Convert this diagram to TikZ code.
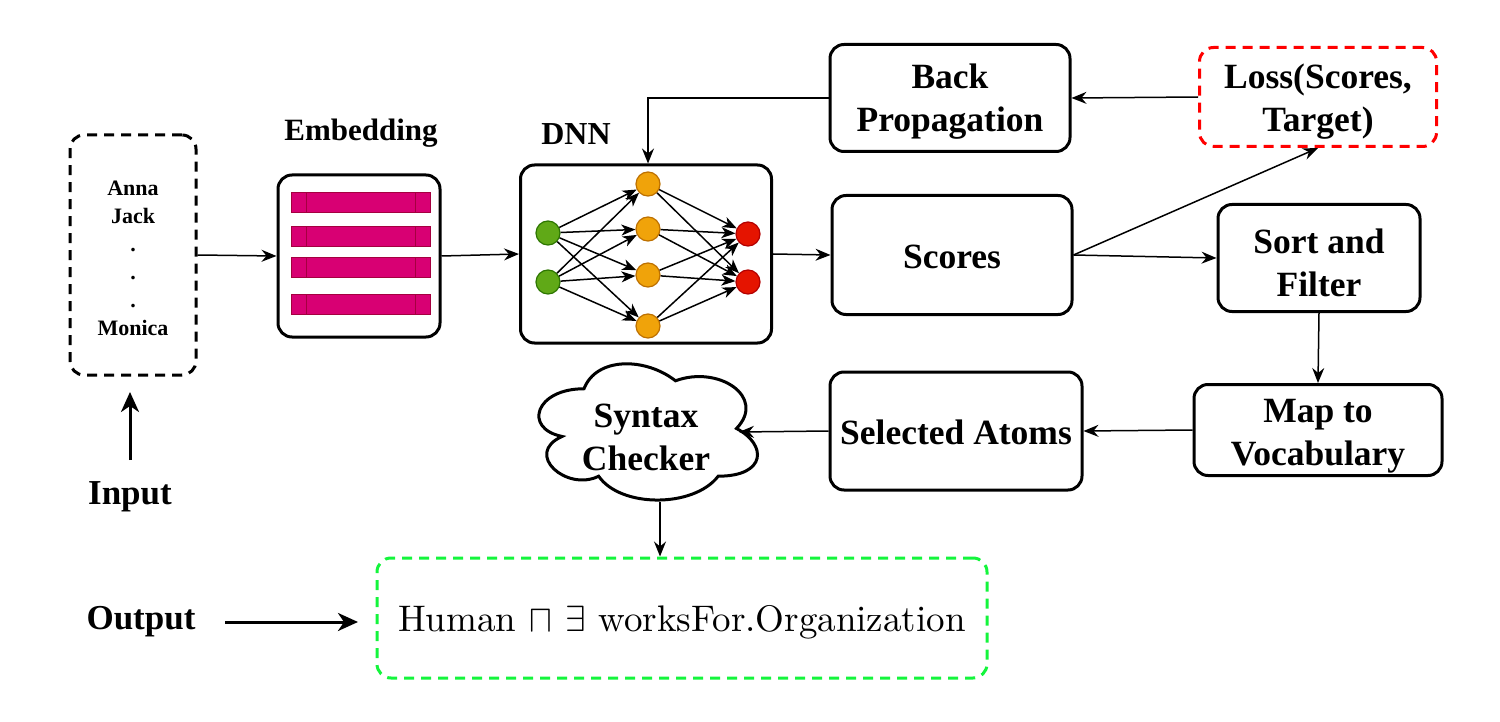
\documentclass[tikz,border=0pt]{standalone}
\usepackage{unicode-math}
\newfontfamily\tnr{Liberation Serif}
\newfontfamily\lmten{lmroman10-regular.otf}
\usetikzlibrary{arrows.meta,calc}
\definecolor{magbar}{HTML}{D80073}
\definecolor{magdraw}{HTML}{A50040}
\definecolor{gfill}{HTML}{60A917}
\definecolor{gdraw}{HTML}{2D7600}
\definecolor{ofill}{HTML}{F0A30A}
\definecolor{odraw}{HTML}{BD7000}
\definecolor{rfill}{HTML}{E51400}
\definecolor{rdraw}{HTML}{B20000}
\definecolor{lossred}{HTML}{FF0000}
\definecolor{outgreen}{RGB}{20,245,60}
\tikzset{
  box/.style={draw, line width=3pt, rounded corners=14pt, inner sep=0pt},
  dashbox/.style={box, dash pattern=on 10pt off 7pt},
  txt/.style={align=center, inner sep=0pt, font=\tnr\bfseries\fontsize{35.5}{43}\selectfont},
  conn/.style={-{Stealth[length=15pt,width=12pt,inset=5pt]}, line width=1.5pt},
  bigarrow/.style={-{Stealth[length=20pt,width=18pt,inset=6pt]}, line width=3pt},
  lab/.style={font=\tnr\bfseries\fontsize{35}{42}\selectfont, inner sep=0pt},
  neuron/.style={circle, inner sep=0pt, minimum size=24pt, line width=1.2pt},
  nnarrow/.style={-{Stealth[length=14pt,width=11pt,inset=4pt]}, line width=1.5pt},
  bar/.style={fill=magbar, draw=magdraw, line width=1pt},
}
\begin{document}
\begin{tikzpicture}[x=1pt,y=-1pt]
\useasboundingbox (0,0) rectangle (1500,722);

% input
\node[dashbox, minimum width=126pt, minimum height=240pt] (in) at (133,255) {};
\node[txt, font=\tnr\bfseries\fontsize{22}{28}\selectfont] (intxt) at (133,258)
  {Anna\\Jack\\.\\.\\.\\Monica};
\node[lab] (inlab) at (130,497) {Input};
\coordinate (inA) at (130,460);
\coordinate (inB) at (130,392);
\draw[bigarrow] (inA) -- (inB);

% embedding
\node[lab, font=\tnr\bfseries\fontsize{31}{36}\selectfont] (emblab) at (361,133) {Embedding};
\node[box, minimum width=162pt, minimum height=162pt] (emb) at (359,256) {};
\foreach \y in {202.5,237,268,304.5}{
  \draw[bar] (291,\y-10) rectangle (430,\y+10);
  \draw[magdraw, line width=1pt] (306,\y-10) -- (306,\y+10);
  \draw[magdraw, line width=1pt] (415,\y-10) -- (415,\y+10);
}

% DNN
\node[lab, font=\tnr\bfseries\fontsize{32}{36}\selectfont] (dnnlab) at (576,134) {DNN};
\node[box, minimum width=251pt, minimum height=178pt] (dnn) at (646,254) {};
\node[neuron, fill=gfill, draw=gdraw] (g1) at (548,233) {};
\node[neuron, fill=gfill, draw=gdraw] (g2) at (548,282) {};
\node[neuron, fill=ofill, draw=odraw] (o1) at (648,184) {};
\node[neuron, fill=ofill, draw=odraw] (o2) at (648,229) {};
\node[neuron, fill=ofill, draw=odraw] (o3) at (648,275) {};
\node[neuron, fill=ofill, draw=odraw] (o4) at (648,326) {};
\node[neuron, fill=rfill, draw=rdraw] (r1) at (748,234) {};
\node[neuron, fill=rfill, draw=rdraw] (r2) at (748,282) {};
\foreach \g in {g1,g2}{
  \foreach \o in {o1,o2,o3,o4}{
    \draw[nnarrow] (\g) -- (\o);
  }
}
\foreach \o in {o1,o2,o3,o4}{
  \foreach \r in {r1,r2}{
    \draw[nnarrow] (\o) -- (\r);
  }
}

% right part boxes
\node[box, minimum width=240pt, minimum height=107pt] (bp) at (950,98) {};
\node[txt] (bptxt) at (950,102) {Back\\Propagation};
\node[dashbox, draw=lossred, minimum width=237pt, minimum height=99pt] (loss) at (1318,97) {};
\node[txt] (losstxt) at (1318,102) {Loss(Scores,\\Target)};
\node[box, minimum width=240pt, minimum height=119pt] (sc) at (952,255) {};
\node[txt] (sctxt) at (952,257) {Scores};
\node[box, minimum width=202pt, minimum height=107pt] (sort) at (1319,258) {};
\node[txt] (sorttxt) at (1319,263) {Sort and\\Filter};
\node[box, minimum width=248pt, minimum height=91pt] (map) at (1318,430) {};
\node[txt] (maptxt) at (1318,436) {Map to\\Vocabulary};
\node[box, minimum width=252pt, minimum height=118pt] (sel) at (956,431) {};
\node[txt] (seltxt) at (956,432) {Selected Atoms};

% cloud (syntax checker)
\begin{scope}[shift={(523,349)}, x=244pt, y=-159pt]
  \draw[line width=3pt, fill=white] (0.25,0.25)
    .. controls (0.05,0.25) and (0,0.5) .. (0.16,0.55)
    .. controls (0,0.66) and (0.18,0.9) .. (0.31,0.8)
    .. controls (0.4,1) and (0.7,1) .. (0.8,0.8)
    .. controls (1,0.8) and (1,0.6) .. (0.875,0.5)
    .. controls (1,0.3) and (0.8,0.1) .. (0.625,0.2)
    .. controls (0.5,0.05) and (0.3,0.05) .. (0.25,0.25) -- cycle;
\end{scope}
\node[txt] (syn) at (646,437) {Syntax\\Checker};
\coordinate (synE) at (739,432);
\coordinate (synS) at (660,502);

% output
\node[dashbox, draw=outgreen, minimum width=610pt, minimum height=120pt] (out) at (682,618) {};
\node[inner sep=0pt, anchor=base west, font=\lmten\fontsize{37}{44}\selectfont] (outtxt) at (398,631)
  {Human $\sqcap$ $\exists$ worksFor.Organization};
\node[lab] (outlab) at (141,622) {Output};
\coordinate (outA) at (225,622);
\coordinate (outB) at (358,622);
\draw[bigarrow] (outA) -- (outB);

% connectors
\draw[conn] (in.east) -- (emb.west);
\draw[conn] (emb.east) -- (dnn.west);
\draw[conn] (dnn.east) -- (sc.west);
\draw[conn] (loss.west) -- (bp.east);
\draw[conn] (bp.west) -| (o1 |- dnn.north);
\draw[conn] (sc.east) -- (loss.south);
\draw[conn] (sc.east) -- (sort.west);
\draw[conn] (sort.south) -- (map.north);
\draw[conn] (map.west) -- (sel.east);
\draw[conn] (sel.west) -- (synE);
\draw[conn] (synS) -- (synS |- out.north);
\end{tikzpicture}
\end{document}
